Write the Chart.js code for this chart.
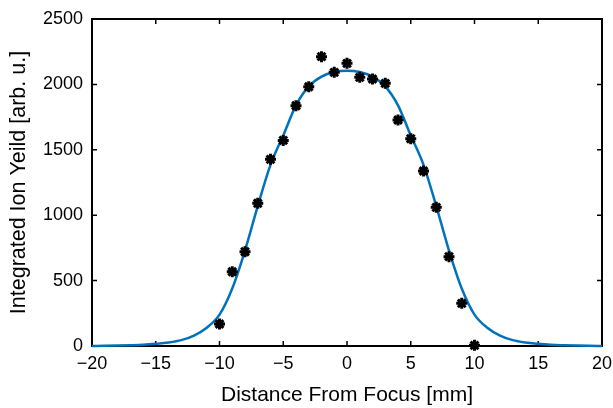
<!DOCTYPE html>
<html>
<head>
<meta charset="utf-8">
<script src="https://cdn.jsdelivr.net/npm/chart.js@4/dist/chart.umd.min.js"></script>
<style>
  html, body { margin: 0; padding: 0; background: #fff; }
  #wrap { width: 613px; height: 408px; }
</style>
</head>
<body>
<div id="wrap"><canvas id="ionChart" width="613" height="408"></canvas></div>
<script>
// measured points (asterisks)
var distance = [-10, -9, -8, -7, -6, -5, -4, -3, -2, -1, 0, 1, 2, 3, 4, 5, 6, 7, 8, 9, 10];
var ionYield = [168, 568, 721, 1091, 1427, 1572, 1837, 1982, 2212, 2092, 2161, 2054, 2041, 2008, 1728, 1585, 1338, 1060, 683, 326, 5];

// fitted curve
var fitX = [-20, -19, -18, -17, -16, -15, -14, -13, -12, -11, -10, -9, -8, -7, -6, -5, -4, -3, -2, -1, 0,
            1, 2, 3, 4, 5, 6, 7, 8, 9, 10, 11, 12, 13, 14, 15, 16, 17, 18, 19, 20];
var fitY = [0, 1, 3, 6, 10, 17, 27, 45, 80, 140, 240, 440, 730, 1070, 1385, 1610, 1840, 1985, 2060, 2095, 2105,
            2095, 2060, 1985, 1840, 1610, 1385, 1070, 730, 440, 240, 140, 80, 45, 27, 17, 10, 6, 3, 1, 0];

var xTicks = [-20, -15, -10, -5, 0, 5, 10, 15, 20];
var yTicks = [0, 500, 1000, 1500, 2000, 2500];

var font = "'Liberation Sans', Arial, Helvetica, sans-serif";

// MATLAB-like box with inward ticks on all sides
var boxPlugin = {
    id: "box",
    beforeDatasetsDraw: function (chart) {
        var c = chart.ctx, a = chart.chartArea;
        var xs = chart.scales.x, ys = chart.scales.y;
        var len = 5;
        c.save();
        c.strokeStyle = "#000";
        c.lineWidth = 1.5;
        c.beginPath();
        xTicks.forEach(function (t) {
            var px = xs.getPixelForValue(t);
            c.moveTo(px, a.bottom); c.lineTo(px, a.bottom - len);
            c.moveTo(px, a.top); c.lineTo(px, a.top + len);
        });
        yTicks.forEach(function (t) {
            var py = ys.getPixelForValue(t);
            c.moveTo(a.left, py); c.lineTo(a.left + len, py);
            c.moveTo(a.right, py); c.lineTo(a.right - len, py);
        });
        c.stroke();
        c.lineWidth = 2;
        c.strokeRect(a.left, a.top, a.right - a.left, a.bottom - a.top);
        c.restore();
    }
};

var ctx = document.getElementById("ionChart").getContext("2d");
var myChart = new Chart(ctx, {
    type: "scatter",
    data: {
        datasets: [
            {
                label: "fit",
                data: fitX.map(function (x, i) { return { x: x, y: fitY[i] }; }),
                showLine: true,
                borderColor: "#0072BD",
                borderWidth: 2.5,
                pointRadius: 0,
                cubicInterpolationMode: "monotone",
                clip: false,
                order: 2,
            },
            {
                label: "data",
                data: distance.map(function (x, i) { return { x: x, y: ionYield[i] }; }),
                pointStyle: "star",
                pointRadius: 5.5,
                borderColor: "#000",
                backgroundColor: "#000",
                borderWidth: 3,
                clip: false,
                order: 1,
            },
        ],
    },
    options: {
        responsive: false,
        animation: false,
        layout: { padding: { top: 19, right: 11, left: 0, bottom: 0 } },
        plugins: { legend: { display: false }, tooltip: { enabled: false } },
        scales: {
            x: {
                type: "linear",
                min: -20,
                max: 20,
                afterBuildTicks: function (s) { s.ticks = xTicks.map(function (v) { return { value: v }; }); },
                afterFit: function (s) { s.height = 62; s.paddingLeft = 0; s.paddingRight = 0; },
                grid: { display: false, drawTicks: false },
                border: { display: false },
                ticks: {
                    color: "#000",
                    padding: 7,
                    font: { family: font, size: 18 },
                    maxRotation: 0,
                    callback: function (v) { return v < 0 ? "\u2212" + Math.abs(v) : String(v); },
                },
                title: {
                    display: true,
                    text: "Distance From Focus [mm]",
                    color: "#000",
                    font: { family: font, size: 21 },
                    padding: { top: 0, bottom: 0 },
                },
            },
            y: {
                type: "linear",
                min: 0,
                max: 2500,
                afterBuildTicks: function (s) { s.ticks = yTicks.map(function (v) { return { value: v }; }); },
                afterFit: function (s) { s.width = 92; s.paddingTop = 0; s.paddingBottom = 0; },
                grid: { display: false, drawTicks: false },
                border: { display: false },
                ticks: {
                    color: "#000",
                    padding: 9,
                    font: { family: font, size: 18 },
                    callback: function (v) { return String(v); },
                },
                title: {
                    display: true,
                    text: "Integrated Ion Yeild [arb. u.]",
                    color: "#000",
                    font: { family: font, size: 21.5 },
                    padding: { top: 6, bottom: 0 },
                },
            },
        },
    },
    plugins: [boxPlugin],
});
</script>
</body>
</html>
